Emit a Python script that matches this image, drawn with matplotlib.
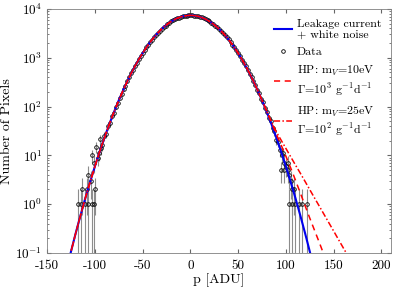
import numpy as np
import matplotlib
matplotlib.use("Agg")
import matplotlib.pyplot as plt

plt.rcParams["font.family"] = "serif"
plt.rcParams["font.serif"] = ["cmr10"]
plt.rcParams["mathtext.fontset"] = "cm"
plt.rcParams["axes.formatter.use_mathtext"] = True
plt.rcParams["axes.unicode_minus"] = False

# model: leakage current + white noise
p_model = np.arange(-130, 131, 5)
n_model = [0.0428, 0.106, 0.255, 0.589, 1.32, 2.83, 5.89, 11.8, 22.9, 42.7, 76.9, 134,
           224, 363, 568, 855, 1245, 1747, 2366, 3093, 3899, 4747, 5572, 6315, 6902, 7282,
           7413,
           7282, 6902, 6315, 5572, 4747, 3899, 3093, 2366, 1747, 1245, 855, 568, 363, 224,
           134, 76.9, 42.7, 22.9, 11.8, 5.89, 2.83, 1.32, 0.589, 0.255, 0.106, 0.0428]

# hidden photon tails (right side only, joins the model below p=80 / p=75)
p_hp10 = [80, 85, 90, 95, 100, 105, 110, 115, 120, 125, 130, 135, 140]
n_hp10 = [79.4, 46.8, 26.9, 16.2, 9.55, 5.50, 3.09, 1.70, 0.933, 0.513, 0.288, 0.162, 0.0891]
p_hp25 = [75, 80, 85, 90, 95, 100, 105, 110, 115, 120, 125, 130, 135, 140, 145, 150, 155, 160, 165]
n_hp25 = [135, 79.4, 47.9, 30.2, 20.4, 13.8, 9.33, 6.31, 4.32, 2.92, 1.97, 1.33, 0.902,
          0.610, 0.412, 0.279, 0.188, 0.127, 0.0861]

# data, core bins
p_core = np.arange(-92, 93, 2)
n_core = [16, 25, 28, 40, 46, 63, 74, 99, 117, 152, 180, 228, 268, 335, 394, 482, 561, 678,
          783, 931, 1068, 1252, 1424, 1645, 1853, 2112, 2358, 2651, 2930, 3256, 3560, 3907,
          4228, 4585, 4905, 5256, 5563, 5890, 6166, 6452, 6680, 6911, 7075, 7230, 7320, 7400,
          7405, 7386, 7336, 7215, 7090, 6894, 6697, 6436, 6182, 5874, 5580, 5240, 4921, 4568,
          4243, 3891, 3576, 3241, 2946, 2638, 2372, 2097, 1867, 1630, 1437, 1239, 1081, 919,
          795, 667, 572, 473, 402, 327, 276, 220, 186, 146, 123, 93, 79, 59, 50, 36, 31, 21, 19]

# data, tails
p_tail = [-117.5, -114, -113, -110.5, -107.7, -107, -106.7, -104.5, -102.5, -102.5, -100.7,
          -100.7, -99.7, -98.3, -97, -96, -95, -94,
          94, 94.8, 96, 97, 98.2, 98.2, 100, 101.7, 101.7, 102.7, 103, 105, 106.3, 106.3,
          108.7, 109.7, 113.2, 116.8, 122]
n_tail = [1, 1, 2, 1, 2, 1, 4, 3, 1, 10, 1, 7, 2, 15, 9, 11, 22, 14,
          13, 5, 10, 11, 5, 7, 6, 5, 7, 1, 4, 3, 1, 2, 2, 1, 1, 1, 1]

x_ticks = [-150, -100, -50, 0, 50, 100, 150, 200]
x_ticklabels = ["-150", "-100", "-50", "0", "50", "100", "150", "200"]

p_data = np.concatenate([p_core, p_tail])
n_data = np.concatenate([n_core, n_tail]).astype(float)
err = np.sqrt(n_data)
err_lo = np.minimum(err, n_data - 1e-3)

mask10 = p_model < 80
mask25 = p_model < 75
p10 = np.concatenate([p_model[mask10], p_hp10])
n10 = np.concatenate([np.array(n_model)[mask10], n_hp10])
p25 = np.concatenate([p_model[mask25], p_hp25])
n25 = np.concatenate([np.array(n_model)[mask25], n_hp25])

fig = plt.figure(figsize=(3.99, 2.90), dpi=100)
ax = fig.add_axes([0.118, 0.128, 0.862, 0.841])

ax.errorbar(p_data, n_data, yerr=[err_lo, err], fmt="none", ecolor="0.55",
            elinewidth=0.8, capsize=0, zorder=1)
data_h, = ax.plot(p_data, n_data, "o", mfc="none", mec="k", mew=0.6, ms=2.6,
                  zorder=2, label="Data")
model_h, = ax.plot(p_model, n_model, color="#0000ee", lw=1.5, zorder=3,
                   label="Leakage current\n+ white noise")
hp10_h, = ax.plot(p10, n10, color="red", lw=1.1, ls=(0, (4, 3)), zorder=4,
                  label="HP: m$_V$=10eV\n$\\Gamma$=10$^3$ g$^{-1}$d$^{-1}$")
hp25_h, = ax.plot(p25, n25, color="red", lw=1.1, ls=(0, (4, 1.5, 1, 1.5)), zorder=5,
                  label="HP: m$_V$=25eV\n$\\Gamma$=10$^2$ g$^{-1}$d$^{-1}$")

ax.set_yscale("log")
ax.set_xlim(-150, 210)
ax.set_ylim(0.1, 1e4)
ax.set_xticks(x_ticks)
ax.set_xticklabels(x_ticklabels)
ax.tick_params(which="both", direction="in", top=True, right=True, labelsize=9.5,
               color="0.4")
ax.tick_params(axis="x", pad=5)
ax.tick_params(which="major", length=3)
ax.tick_params(which="minor", length=1.5)
for s in ax.spines.values():
    s.set_color("0.5")
    s.set_linewidth(0.6)

ax.set_xlabel("p [ADU]", fontsize=10, labelpad=1)
ax.set_ylabel("Number of Pixels", fontsize=10)
ax.yaxis.set_label_coords(-0.1, 0.5)

ax.legend(handles=[model_h, data_h, hp10_h, hp25_h], loc="upper right", frameon=False,
          fontsize=8.6, handlelength=1.5, handletextpad=0.4, borderaxespad=0.4,
          labelspacing=0.6, markerscale=1.0)

fig.savefig("out.png", dpi=100)
